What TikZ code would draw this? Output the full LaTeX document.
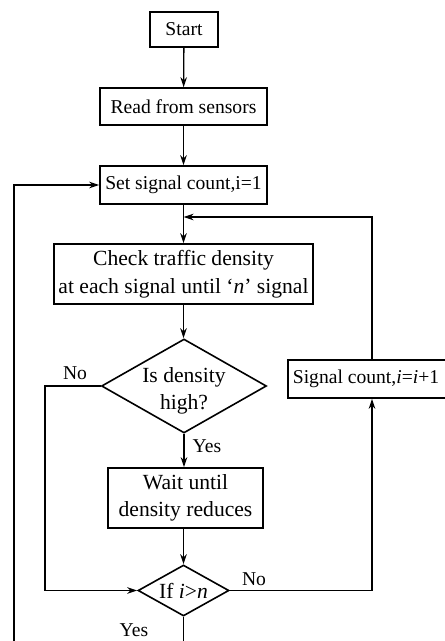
\documentclass[tikz,border=0pt]{standalone}
\usepackage{fontspec}
\setmainfont{Liberation Serif}
\usetikzlibrary{shapes.geometric,arrows.meta,calc}
\begin{document}
\begin{tikzpicture}[x=1pt,y=-1pt,
  every node/.style={font=\fontsize{19.6}{24.5}\selectfont},
  large/.style={font=\fontsize{21.6}{27.5}\selectfont},
  procbox/.style={draw,line width=1.6pt,align=center,inner sep=0pt},
  decision/.style={draw,diamond,line width=1.6pt,align=center,inner sep=-4pt,shape aspect=1.76},
  flow/.style={line width=1.3pt,-{Stealth[length=10pt,width=6.5pt]}},
  lbl/.style={inner sep=0pt}]
\useasboundingbox (0,0) rectangle (445,641);

% process boxes
\node[procbox,minimum width=68pt,minimum height=35pt] (start) at (184,29.5) {Start};
\node[procbox,minimum width=167pt,minimum height=37pt] (read) at (183.5,106.5) {Read from sensors};
\node[procbox,minimum width=167pt,minimum height=38pt] (set) at (183.5,185) {Set signal count,i=1};
\node[procbox,large,minimum width=259pt,minimum height=60pt] (check) at (183.5,274)
  {Check traffic density\\at each signal until `\textit{n}' signal};
\node[decision,minimum width=165pt,minimum height=94pt,
  label={[large,align=center,inner sep=0pt,yshift=-5pt]center:Is density\\high?}] (dense) at (184,386) {};
\node[procbox,large,minimum width=155pt,minimum height=60pt] (wait) at (185.5,498) {Wait until\\density reduces};
\node[decision,large,minimum width=91pt,minimum height=51pt] (last) at (183.5,590.5) {If \textit{i}>\textit{n}};
\node[procbox,minimum width=168pt,minimum height=38pt] (incr) at (372,379) {\hspace*{-12pt}Signal count,\textit{i}=\textit{i}+1};

% branch labels
\node[lbl] at (75,373) {No};
\node[lbl] at (207,446) {Yes};
\node[lbl] at (254,579) {No};
\node[lbl] at (134,630) {Yes};

% main flow
\draw[flow] (start) -- (read);
\draw[flow] (read) -- (set);
\draw[flow] (set) -- (check);
\draw[flow] (check) -- (check |- dense.north);
\draw[flow] (dense) -- (dense |- wait.north);
\draw[flow] (wait.south -| last) -- (last);

% density low: skip waiting
\draw[flow] (dense.west) -- (45,386) |- (last.west);

% next signal loop
\coordinate (join) at (183.5,217);
\draw[flow] (last.east) -| (incr.south);
\draw[flow] (incr.north) |- (join);

% all signals done: restart
\coordinate (restart) at (14,670);
\draw[flow] (last.south) -- (183.5,670) -- (restart) |- (set.west);
\end{tikzpicture}
\end{document}
